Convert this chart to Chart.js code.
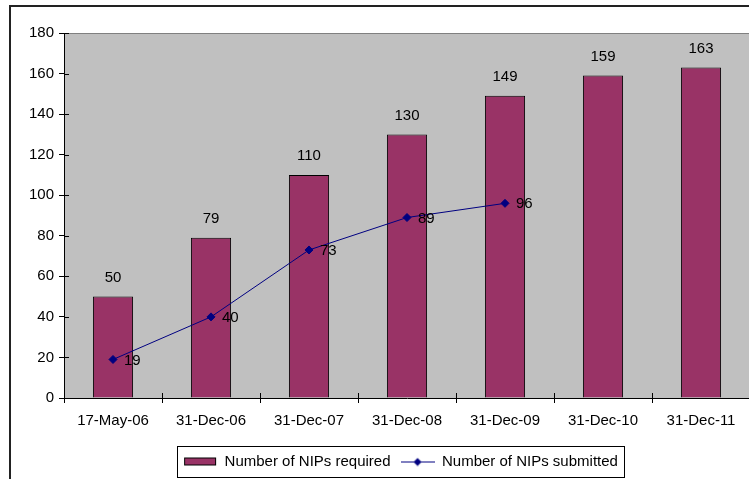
<!DOCTYPE html>
<html><head><meta charset="utf-8">
<script src="https://cdn.jsdelivr.net/npm/chart.js@4/dist/chart.umd.min.js"></script>
<style>
html,body{margin:0;padding:0;overflow:hidden;background:#fff;width:749px;height:479px}
#wrap{position:absolute;left:0;top:0;width:760px;height:479px}
</style>
</head><body><div id="wrap"><canvas id="c" width="760" height="479"></canvas></div>
<script>
const categories = ['17-May-06','31-Dec-06','31-Dec-07','31-Dec-08','31-Dec-09','31-Dec-10','31-Dec-11'];
const nipsRequired = [50, 79, 110, 130, 149, 159, 163];
const nipsSubmitted = [19, 40, 73, 89, 96, null, null];
const yMin = 0, yMax = 180, yStep = 20;
const seriesNames = ['Number of NIPs required', 'Number of NIPs submitted'];

const FONT = '"Liberation Sans", Arial, sans-serif';
const BAR = '#993366', LINE = '#000080', BG = '#C0C0C0';

function barSwatch(){
  const c = document.createElement('canvas'); c.width = 34; c.height = 10;
  const g = c.getContext('2d');
  g.fillStyle = BAR; g.fillRect(1.5, 1.5, 31, 7);
  g.strokeStyle = '#000'; g.lineWidth = 1; g.strokeRect(1.5, 1.5, 31, 7);
  return c;
}
function lineSwatch(){
  const c = document.createElement('canvas'); c.width = 34; c.height = 10;
  const g = c.getContext('2d');
  g.strokeStyle = LINE; g.lineWidth = 1;
  g.beginPath(); g.moveTo(0, 5.5); g.lineTo(34, 5.5); g.stroke();
  g.fillStyle = LINE; g.beginPath();
  g.moveTo(17, 1.5); g.lineTo(21, 5.5); g.lineTo(17, 9.5); g.lineTo(13, 5.5); g.closePath(); g.fill();
  return c;
}
const swatches = [barSwatch(), lineSwatch()];

const deco = {
  id: 'deco',
  afterLayout(chart){
    const lg = chart.legend;
    if (lg) { lg.left = 51; lg.width = lg.right - lg.left; }
  },
  beforeDraw(chart){
    const {ctx, chartArea: a} = chart;
    ctx.save();
    ctx.fillStyle = BG;
    ctx.fillRect(a.left, a.top, a.right - a.left, a.bottom - a.top);
    ctx.strokeStyle = '#808080'; ctx.lineWidth = 1;
    ctx.beginPath(); ctx.moveTo(a.left, Math.round(a.top) + 0.5); ctx.lineTo(a.right, Math.round(a.top) + 0.5); ctx.stroke();
    ctx.restore();
  },
  afterDatasetsDraw(chart){
    const ctx = chart.ctx;
    ctx.save();
    ctx.fillStyle = '#000';
    ctx.font = '15px ' + FONT;
    ctx.textBaseline = 'middle';
    ctx.textAlign = 'center';
    chart.getDatasetMeta(0).data.forEach((el, i) => {
      ctx.fillText(String(nipsRequired[i]), el.x, el.y - 19);
    });
    ctx.textAlign = 'left';
    chart.getDatasetMeta(1).data.forEach((el, i) => {
      if (nipsSubmitted[i] == null) return;
      ctx.fillText(String(nipsSubmitted[i]), el.x + 11, el.y + 1);
    });
    ctx.restore();
  },
  afterDraw(chart){
    const {ctx, chartArea: a} = chart;
    ctx.save();
    // inner halves of cross tick marks
    ctx.strokeStyle = '#000'; ctx.lineWidth = 1;
    const ys = chart.scales.y;
    ys.ticks.forEach(t => {
      const y = Math.round(ys.getPixelForValue(t.value)) + 0.5;
      ctx.beginPath(); ctx.moveTo(a.left, y); ctx.lineTo(a.left + 5, y); ctx.stroke();
    });
    const xs = chart.scales.x;
    const n = categories.length;
    for (let i = 1; i < n; i++) {
      const x = Math.round((xs.getPixelForValue(i - 1) + xs.getPixelForValue(i)) / 2) + 0.5;
      ctx.beginPath(); ctx.moveTo(x, a.bottom - 5); ctx.lineTo(x, a.bottom); ctx.stroke();
    }
    // legend frame
    const hb = chart.legend.legendHitBoxes;
    if (hb && hb.length) {
      const l = Math.min(...hb.map(h => h.left)) - 6;
      const r = Math.max(...hb.map(h => h.left + h.width)) + 6;
      const t = hb[0].top - 8, b = hb[0].top + hb[0].height + 8;
      ctx.strokeStyle = '#000'; ctx.lineWidth = 1;
      ctx.strokeRect(Math.round(l) + 0.5, Math.round(t) + 0.5, Math.round(r - l), Math.round(b - t));
    }
    // outer chart frame
    ctx.strokeStyle = '#222'; ctx.lineWidth = 2;
    ctx.strokeRect(10, 6, 800, 500);
    ctx.restore();
  }
};

new Chart(document.getElementById('c'), {
  data: {
    labels: categories,
    datasets: [
      {
        type: 'bar', label: seriesNames[0], data: nipsRequired, order: 2,
        backgroundColor: BAR, borderColor: '#000', borderWidth: 1,
        barPercentage: 0.41, categoryPercentage: 1
      },
      {
        type: 'line', label: seriesNames[1], data: nipsSubmitted, order: 1,
        borderColor: LINE, borderWidth: 1, tension: 0, spanGaps: false,
        pointStyle: 'rectRot', pointRadius: 4, pointBackgroundColor: LINE, pointBorderColor: LINE, pointBorderWidth: 1
      }
    ]
  },
  options: {
    responsive: false, devicePixelRatio: 1, animation: false,
    layout: { padding: { left: 10, right: 10, top: 33, bottom: 0 } },
    plugins: {
      tooltip: { enabled: false },
      legend: {
        position: 'bottom',
        labels: {
          usePointStyle: true, pointStyleWidth: 34, padding: 10, color: '#000',
          font: { family: FONT, size: 15 },
          generateLabels(chart){
            return seriesNames.map((name, i) => ({
              text: name, datasetIndex: i, pointStyle: swatches[i], hidden: false,
              fillStyle: i === 0 ? BAR : LINE, strokeStyle: i === 0 ? '#000' : LINE, lineWidth: 0, fontColor: '#000'
            }));
          }
        }
      }
    },
    scales: {
      x: {
        grid: { display: true, drawOnChartArea: false, offset: true, color: '#000', tickColor: '#000', tickLength: 5 },
        border: { display: true, color: '#000', width: 1 },
        ticks: { color: '#000', font: { family: FONT, size: 15 }, padding: 9, maxRotation: 0, autoSkip: false },
        afterFit(s){ s.height = 46; }
      },
      y: {
        min: yMin, max: yMax,
        grid: { drawOnChartArea: false, color: '#000', tickColor: '#000', tickLength: 5 },
        border: { display: true, color: '#000', width: 1 },
        ticks: { stepSize: yStep, color: '#000', font: { family: FONT, size: 15 }, padding: 5 },
        afterFit(s){ s.width = 54; }
      }
    }
  },
  plugins: [deco]
});
</script>
</body></html>
